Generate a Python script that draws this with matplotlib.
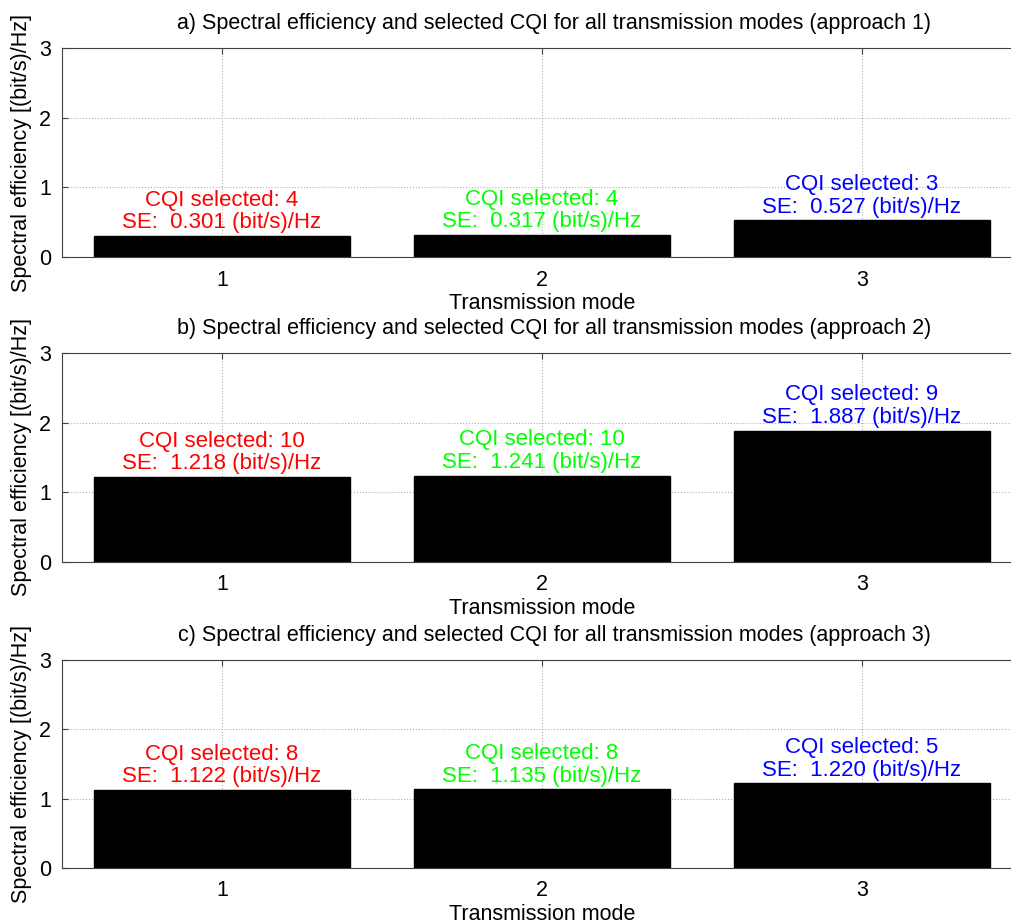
import numpy as np
import matplotlib
matplotlib.use('Agg')
import matplotlib.pyplot as plt

plt.rcParams['font.family'] = ['Liberation Sans', 'DejaVu Sans']
plt.rcParams['font.size'] = 15.5

# transmission modes and results for the three CQI selection approaches
modes = [1, 2, 3]
approaches = ['approach 1', 'approach 2', 'approach 3']
panel_tags = ['a)', 'b)', 'c)']
se_values = [
    [0.301, 0.317, 0.527],
    [1.218, 1.241, 1.887],
    [1.122, 1.135, 1.220],
]
cqi_values = [
    [4, 4, 3],
    [10, 10, 9],
    [8, 8, 5],
]
mode_colors = ['#ff0000', '#00ff00', '#0000ff']

W, H = 1012, 924
fig = plt.figure(figsize=(W / 100, H / 100), dpi=100)

# axes boxes in pixels: (left, top, right, bottom)
boxes = [(62, 48, 1022, 257), (62, 353, 1022, 562), (62, 660, 1022, 868)]

for k, (l, t, r, b) in enumerate(boxes):
    ax = fig.add_axes([l / W, 1 - b / H, (r - l) / W, (b - t) / H])
    ax.bar(modes, se_values[k], width=0.8, color='black', edgecolor='black', zorder=2)
    ax.set_xlim(0.5, 3.5)
    ax.set_ylim(0, 3)
    ax.set_xticks(modes)
    ax.set_yticks([0, 1, 2, 3])
    ax.set_axisbelow(True)
    ax.grid(True, linestyle=':', color='#b0b0b0', linewidth=0.8)
    for s in ax.spines.values():
        s.set_color('#404040')
        s.set_linewidth(0.8)
    ax.tick_params(direction='in', length=4, width=0.8, color='#404040', pad=9,
                   top=True, right=True, labelsize=15.5)
    ax.tick_params(axis='y', pad=8)
    ax.set_title(f'{panel_tags[k]} Spectral efficiency and selected CQI for all transmission modes ({approaches[k]})',
                 fontsize=15.5, pad=14, x=(554 - l) / (r - l))
    ax.set_xlabel('Transmission mode', fontsize=15.5, labelpad=2)
    ax.set_ylabel('Spectral efficiency [(bit/s)/Hz]', fontsize=15.5, labelpad=5)
    for m, se, cqi, c in zip(modes, se_values[k], cqi_values[k], mode_colors):
        ax.annotate(f'CQI selected: {cqi}\nSE:  {se:.3f} (bit/s)/Hz', xy=(m, se),
                    xytext=(0, 2), textcoords='offset points', ha='center', va='bottom',
                    color=c, fontsize=16, linespacing=1.1, zorder=3)

fig.savefig('out.png', dpi=100, facecolor='white')
